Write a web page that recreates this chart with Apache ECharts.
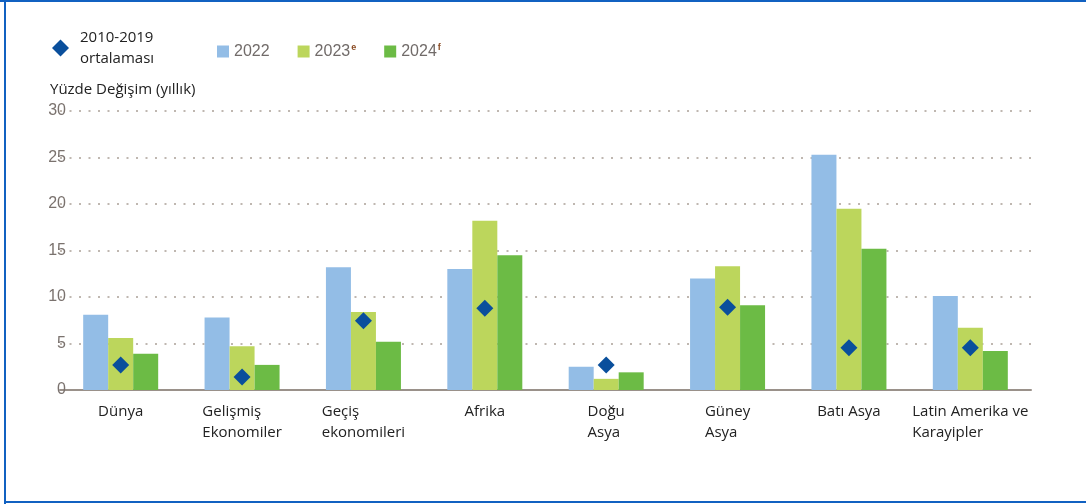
<!DOCTYPE html>
<html>
<head>
<meta charset="utf-8">
<script src="https://cdn.jsdelivr.net/npm/echarts@6/dist/echarts.min.js"></script>
<style>
  html, body { margin: 0; padding: 0; background: #fff; }
  #chart { width: 1086px; height: 504px; }
</style>
</head>
<body>
<div id="chart"></div>
<script>
// bölgeler
var categories = ['Dünya', 'Gelişmiş\nEkonomiler', 'Geçiş\nekonomileri', 'Afrika',
  'Doğu\nAsya', 'Güney\nAsya', 'Batı Asya', 'Latin Amerika ve\nKarayipler'];
var years = ['2022', '2023', '2024'];
var yearMarks = { '2022': '', '2023': 'e', '2024': 'f' };
var v2022 = [8.1, 7.8, 13.2, 13.0, 2.5, 12.0, 25.3, 10.1];
var v2023 = [5.6, 4.7, 8.4, 18.2, 1.2, 13.3, 19.5, 6.7];
var v2024 = [3.9, 2.7, 5.2, 14.5, 1.9, 9.1, 15.2, 4.2];
var avg1019 = [2.7, 1.4, 7.45, 8.8, 2.7, 8.9, 4.55, 4.55];
var avgName = '2010-2019\nortalaması';
var yTicks = [0, 5, 10, 15, 20, 25, 30];

var barColors = ['#93bde6', '#bcd65c', '#6cbb45'];
var narrow = '"Liberation Sans Narrow", "Arial Narrow", sans-serif';
var frame = '#1161c1';

var chart = echarts.init(document.getElementById('chart'));

var barValues = [v2022, v2023, v2024];
var series = years.map(function (y, i) {
  return {
    name: y,
    type: 'bar',
    data: barValues[i],
    barWidth: 25,
    barGap: '0%',
    itemStyle: { color: barColors[i] }
  };
});
series.push({
  name: avgName,
  type: 'scatter',
  data: avg1019,
  symbol: 'diamond',
  symbolSize: 17,
  z: 5,
  itemStyle: { color: '#0a4f9c', opacity: 1 }
});

var option = {
  animation: false,
  textStyle: { fontFamily: '"Open Sans", sans-serif' },
  title: {
    text: 'Yüzde Değişim (yıllık)',
    left: 45,
    top: 77,
    textStyle: { fontSize: 15, fontWeight: 'normal', color: '#222' }
  },
  legend: [
    {
      data: [avgName],
      left: 47,
      top: 22,
      itemWidth: 17,
      itemHeight: 17,
      itemStyle: { opacity: 1 },
      textStyle: { fontSize: 15, color: '#222', lineHeight: 21, padding: [0, 0, 0, 6] }
    },
    {
      data: years,
      left: 212,
      top: 38,
      itemWidth: 12,
      itemHeight: 12,
      itemGap: 28,
      icon: 'rect',
      formatter: function (name) {
        return yearMarks[name] ? name + '{s|' + yearMarks[name] + '}' : name;
      },
      textStyle: {
        fontFamily: narrow,
        fontSize: 16,
        color: '#716b69',
        rich: {
          s: { fontSize: 9, fontWeight: 'bold', color: '#8a4a22', verticalAlign: 'top', padding: [0, 0, 8, 1] }
        }
      }
    }
  ],
  grid: { left: 60, right: 55, top: 111, bottom: 114 },
  xAxis: {
    type: 'category',
    data: categories,
    axisTick: { show: false },
    axisLine: { lineStyle: { color: '#9a918a', width: 2 } },
    axisLabel: {
      margin: 11,
      interval: 0,
      formatter: function (v) {
        return v.split('\n').map(function (l) { return '{l|' + l + '}'; }).join('\n');
      },
      rich: {
        l: { align: 'left', fontSize: 15, color: '#222', lineHeight: 21 }
      }
    }
  },
  yAxis: {
    type: 'value',
    min: yTicks[0],
    max: yTicks[yTicks.length - 1],
    interval: 5,
    axisLine: { show: false },
    axisTick: { show: false },
    axisLabel: {
      margin: -6,
      fontFamily: narrow,
      fontSize: 16,
      color: '#7a726e'
    },
    splitLine: {
      lineStyle: { color: '#aaa097', width: 1.5, type: [2, 7.5] }
    }
  },
  graphic: [
    { type: 'rect', shape: { x: 0, y: 0, width: 1086, height: 2 }, style: { fill: frame } },
    { type: 'rect', shape: { x: 4, y: 0, width: 2, height: 504 }, style: { fill: frame } },
    { type: 'rect', shape: { x: 4, y: 501, width: 1082, height: 2 }, style: { fill: frame } }
  ],
  series: series
};

chart.setOption(option);
</script>
</body>
</html>
